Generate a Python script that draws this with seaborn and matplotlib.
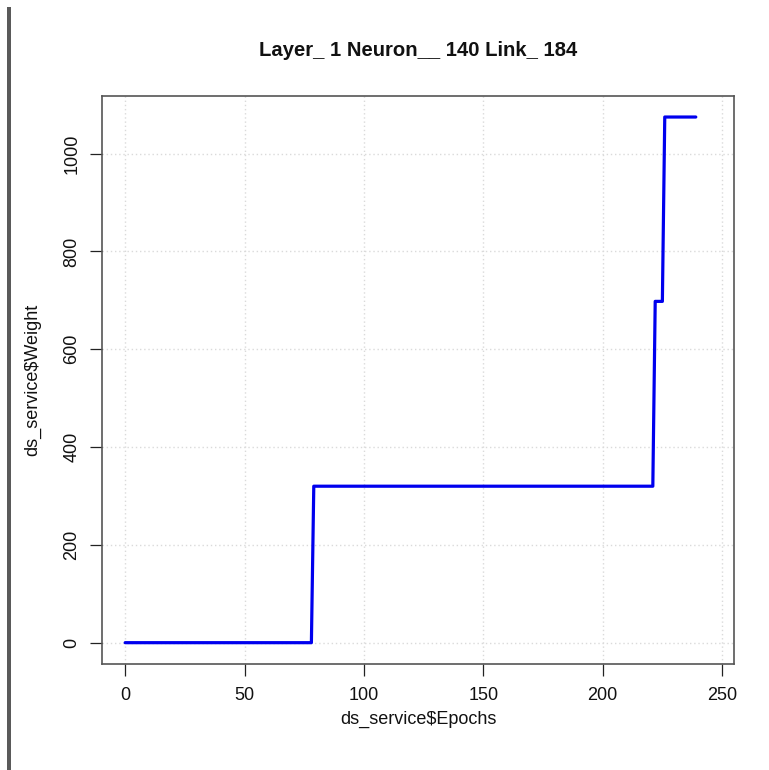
import matplotlib
matplotlib.use("Agg")
import matplotlib.pyplot as plt
import seaborn as sns
import pandas as pd

# Step points
epochs = [0, 78, 79, 221, 222, 225, 226, 239]
weights = [0, 0, 320, 320, 698, 698, 1075, 1075]
x_ticks = [0, 50, 100, 150, 200, 250]
y_ticks = [0, 200, 400, 600, 800, 1000]
title = "Layer_ 1 Neuron__ 140 Link_ 184"

sns.set_style("white")
plt.rcParams['font.family'] = ['Liberation Sans', 'DejaVu Sans']

df = pd.DataFrame({"Epochs": epochs, "Weight": weights})

fig = plt.figure(figsize=(7.69, 7.70), dpi=100)
ax = fig.add_axes([102/769, 1-664/770, (734-102)/769, (664-96)/770])

# grid
for xv in x_ticks:
    ax.axvline(xv, color="#dadada", lw=1, ls=(0, (1, 2)), zorder=0)
for yv in y_ticks:
    ax.axhline(yv, color="#dadada", lw=1, ls=(0, (1, 2)), zorder=0)

sns.lineplot(data=df, x="Epochs", y="Weight", ax=ax, color="#0000EE", lw=2.3,
             estimator=None, sort=False, zorder=3)

ax.set_xlim(-9.7, 255)
ax.set_ylim(-43.6, 1118)
ax.set_xticks(x_ticks)
ax.set_yticks(y_ticks)
ax.set_xticklabels([str(v) for v in x_ticks])
ax.set_yticklabels([str(v) for v in y_ticks], rotation=90, va="center")

for s in ax.spines.values():
    s.set_color("#555555")
    s.set_linewidth(1.2)

ax.tick_params(axis="both", direction="out", length=8.5, width=0.9, color="#222222",
               labelsize=13, labelcolor="#111111", bottom=True, left=True)
ax.tick_params(axis="x", pad=8)
ax.tick_params(axis="y", pad=7)

ax.set_xlabel("ds_service$Epochs", fontsize=13, color="#111111", labelpad=5)
ax.set_ylabel("ds_service$Weight", fontsize=13, color="#111111", labelpad=16)
ax.set_title(title, fontsize=14.6, fontweight="bold", color="#111111", pad=29)

# left gray bar of the screenshot frame
fig.add_artist(plt.Rectangle((7/769, 0), 4/769, 1 - 7/770, transform=fig.transFigure,
                             color="#5a5a5a", lw=0))

fig.savefig("out.png", dpi=100)
